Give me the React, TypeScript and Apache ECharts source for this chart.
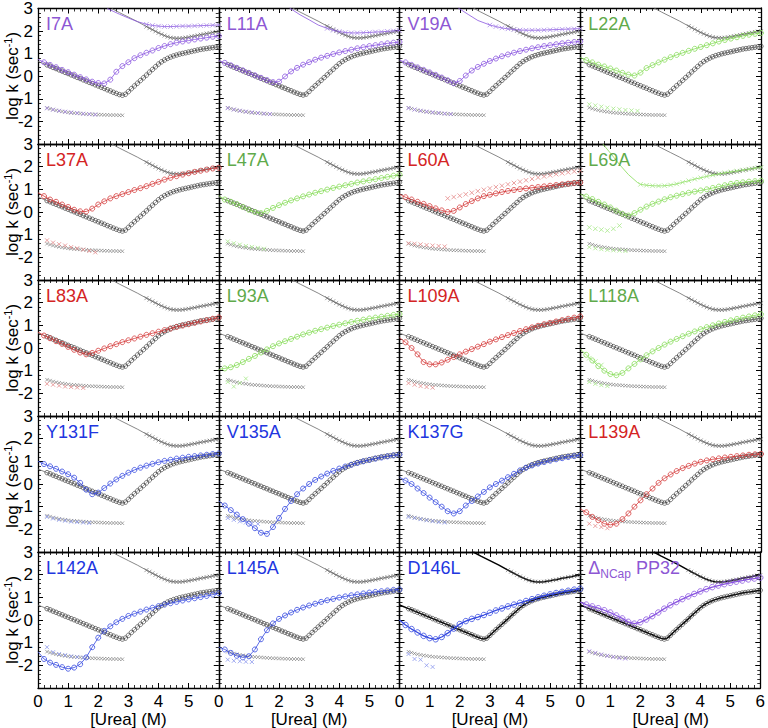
import React, { useEffect, useRef } from "react";
import * as echarts from "echarts";

const FONT = '"Liberation Sans", Arial, Helvetica, sans-serif';

// ---------- shared x grids ----------
const X02 = [0.2,0.4,0.6,0.8,1.0,1.2,1.4,1.6,1.8,2.0,2.2,2.4,2.6,2.8,3.0,3.2,3.4,3.6,3.8,4.0,4.2,4.4,4.6,4.8,5.0,5.2,5.4,5.6,5.8,6.0];
const X_BOT = [0.3,0.5,0.7,0.9,1.1,1.3,1.5,1.7,1.9];
const X_TOP36 = [3.6,3.8,4.0,4.2,4.4,4.6,4.8,5.0,5.2,5.4,5.6,5.8,6.0];
const X_TOP30 = [3.0,3.2,3.4,3.6,3.8,4.0,4.2,4.4,4.6,4.8,5.0,5.2,5.4,5.6,5.8,6.0];
const X_TOP16 = [1.6,1.8,2.0,2.2,2.4,2.6,2.8,3.0,3.2,3.4,3.6,3.8,4.0,4.2,4.4,4.6,4.8,5.0,5.2,5.4,5.6,5.8,6.0];
const X_TOP20 = [2.0,2.2,2.4,2.6,2.8,3.0,3.2,3.4,3.6,3.8,4.0,4.2,4.4,4.6,4.8,5.0,5.2,5.4,5.6,5.8,6.0];

// ---------- wild-type reference (shown in every panel) ----------
const WT_X = [0.3,0.4,0.5,0.6,0.7,0.8,0.9,1.0,1.1,1.2,1.3,1.4,1.5,1.6,1.7,1.8,1.9,2.0,2.1,2.2,2.3,2.4,2.5,2.6,2.7,2.8,2.9,3.0,3.1,3.2,3.3,3.4,3.5,3.6,3.7,3.8,3.9,4.0,4.1,4.2,4.3,4.4,4.5,4.6,4.7,4.8,4.9,5.0,5.1,5.2,5.3,5.4,5.5,5.6,5.7,5.8,5.9,6.0];
const WT_Y = [0.50,0.45,0.39,0.34,0.28,0.23,0.17,0.12,0.06,0.01,-0.05,-0.10,-0.16,-0.21,-0.27,-0.32,-0.38,-0.43,-0.49,-0.54,-0.60,-0.65,-0.71,-0.76,-0.81,-0.84,-0.80,-0.68,-0.55,-0.43,-0.31,-0.19,-0.07,0.05,0.18,0.30,0.42,0.54,0.64,0.72,0.79,0.85,0.90,0.94,0.98,1.01,1.04,1.07,1.10,1.13,1.16,1.19,1.21,1.23,1.25,1.27,1.29,1.31];
const WT_START = 0.66;
const WT_BOT_X = [0.3,0.4,0.5,0.6,0.7,0.8,0.9,1.0,1.1,1.2,1.3,1.4,1.5,1.6,1.7,1.8,1.9,2.0,2.1,2.2,2.3,2.4,2.5,2.6,2.7,2.8];
const WT_BOT_Y = [-1.40,-1.44,-1.48,-1.51,-1.54,-1.56,-1.58,-1.60,-1.62,-1.63,-1.64,-1.65,-1.66,-1.67,-1.68,-1.69,-1.69,-1.70,-1.70,-1.71,-1.71,-1.72,-1.72,-1.72,-1.73,-1.73];
const WT_TOP_X = [3.6,3.7,3.8,3.9,4.0,4.1,4.2,4.3,4.4,4.5,4.6,4.7,4.8,4.9,5.0,5.1,5.2,5.3,5.4,5.5,5.6,5.7,5.8,5.9,6.0];
const WT_TOP_Y = [2.20,2.13,2.06,1.99,1.92,1.86,1.80,1.75,1.71,1.69,1.68,1.68,1.69,1.71,1.73,1.76,1.78,1.81,1.84,1.86,1.89,1.91,1.94,1.96,1.98];
const WT_TOPFIT_X = [2.45,2.7,3.0,3.3];
const WT_TOPFIT_Y = [3.0,2.82,2.62,2.42];

// ---------- mutants ----------
const I7A_C = [0.62,0.50,0.40,0.28,0.18,0.07,-0.04,-0.14,-0.24,-0.30,-0.32,-0.15,0.20,0.45,0.62,0.80,0.93,1.04,1.14,1.25,1.34,1.42,1.49,1.54,1.58,1.63,1.67,1.71,1.75,1.78];
const I7A_B = [-1.42,-1.48,-1.53,-1.57,-1.60,-1.63,-1.66,-1.68,-1.70];
const I7A_T = [2.30,2.25,2.22,2.20,2.20,2.21,2.22,2.22,2.23,2.24,2.25,2.26,2.27];
const I7A_TFX = [2.3,2.7,3.0,3.3];
const I7A_TFY = [3.0,2.75,2.58,2.42];

const L11A_C = [0.58,0.47,0.36,0.25,0.14,0.03,-0.08,-0.18,-0.27,-0.25,-0.02,0.20,0.36,0.50,0.61,0.72,0.81,0.89,0.97,1.04,1.10,1.16,1.22,1.27,1.32,1.36,1.40,1.44,1.47,1.50];
const L11A_B = [-1.42,-1.48,-1.53,-1.57,-1.60,-1.63,-1.66,-1.68];
const L11A_T = [2.10,2.02,1.96,1.92,1.90,1.90,1.91,1.92,1.94,1.95,1.97,1.99,2.01];
const L11A_TFX = [2.35,2.7,3.0,3.3];
const L11A_TFY = [3.0,2.7,2.48,2.25];

const V19A_C = [0.60,0.49,0.38,0.27,0.16,0.05,-0.07,-0.19,-0.32,-0.22,0.02,0.24,0.40,0.54,0.66,0.77,0.87,0.95,1.03,1.10,1.16,1.22,1.27,1.32,1.36,1.40,1.44,1.47,1.50,1.53];
const V19A_B = [-1.42,-1.48,-1.53,-1.57,-1.60,-1.63,-1.66,-1.68];
const V19A_T = [2.25,2.18,2.12,2.08,2.05,2.03,2.02,2.02,2.02,2.03,2.04,2.05,2.06,2.07,2.08,2.09];
const V19A_TFX = [1.95,2.3,2.6];
const V19A_TFY = [3.0,2.7,2.45];

const L22A_C = [0.70,0.60,0.50,0.42,0.33,0.24,0.14,0.06,0.02,0.15,0.35,0.48,0.60,0.72,0.83,0.93,1.02,1.11,1.20,1.28,1.36,1.44,1.52,1.59,1.65,1.71,1.77,1.82,1.86,1.90];
const L22A_B = [-1.25,-1.30,-1.35,-1.40,-1.44,-1.47,-1.50,-1.52,-1.54];

const L37A_C = [0.70,0.55,0.45,0.33,0.22,0.10,0.03,0.02,0.15,0.33,0.47,0.60,0.70,0.79,0.88,0.97,1.05,1.14,1.24,1.33,1.43,1.51,1.58,1.65,1.71,1.77,1.82,1.87,1.92,1.95];
const L37A_B = [-1.25,-1.35,-1.42,-1.48,-1.55,-1.60,-1.66,-1.72,-1.78];

const L47A_C = [0.55,0.45,0.35,0.22,0.10,0.00,-0.05,0.05,0.18,0.30,0.41,0.51,0.60,0.69,0.77,0.85,0.92,0.99,1.06,1.12,1.18,1.24,1.30,1.35,1.40,1.45,1.50,1.55,1.60,1.65];
const L47A_B = [-1.30,-1.38,-1.44,-1.50,-1.54,-1.58,-1.62];

const L60A_C = [0.65,0.55,0.45,0.36,0.26,0.16,0.07,0.00,0.05,0.20,0.35,0.48,0.60,0.70,0.76,0.82,0.88,0.93,0.97,1.01,1.04,1.07,1.10,1.13,1.16,1.19,1.22,1.25,1.28,1.30];
const L60A_B = [-1.38,-1.40,-1.43,-1.46,-1.48,-1.50,-1.52];
const L60A_X = [0.60,0.66,0.72,0.78,0.85,0.92,0.98,1.04,1.10,1.16,1.22,1.28,1.34,1.40,1.46,1.52,1.57,1.62,1.67,1.71,1.75,1.79,1.82];

const L69A_C = [0.68,0.57,0.45,0.33,0.20,0.06,-0.08,-0.16,-0.05,0.10,0.24,0.36,0.46,0.56,0.65,0.72,0.79,0.85,0.90,0.95,1.00,1.06,1.12,1.18,1.24,1.28,1.31,1.34,1.36,1.38];
const L69A_B = [-1.55,-1.60,-1.64,-1.67,-1.69,-1.70,-1.72];
const L69A_T = [1.22,1.18,1.16,1.15,1.16,1.19,1.24,1.31,1.38,1.45,1.51,1.57,1.63,1.68,1.73,1.77,1.81,1.85,1.89,1.93,1.97];
const L69A_TFX = [0.75,1.0,1.3,1.6,1.9];
const L69A_TFY = [3.0,2.6,2.1,1.65,1.3];
const L69A_MID = [-0.68,-0.74,-0.78,-0.82,-0.74,-0.60];

const L83A_C = [0.55,0.43,0.30,0.18,0.05,-0.08,-0.20,-0.28,-0.22,-0.12,-0.02,0.08,0.17,0.26,0.34,0.42,0.50,0.58,0.65,0.72,0.79,0.86,0.93,0.99,1.05,1.11,1.17,1.23,1.29,1.35];
const L83A_B = [-1.58,-1.62,-1.66,-1.70,-1.72,-1.74,-1.76];

const L93A_C = [-0.90,-0.85,-0.75,-0.62,-0.48,-0.35,-0.20,-0.06,0.08,0.20,0.30,0.40,0.50,0.60,0.68,0.76,0.83,0.90,0.97,1.03,1.09,1.15,1.20,1.25,1.30,1.34,1.38,1.42,1.46,1.50];
const L93A_B = [-1.50,-1.70,-1.55,-1.35];

const L109A_C = [0.25,0.00,-0.28,-0.62,-0.72,-0.72,-0.64,-0.52,-0.40,-0.28,-0.16,-0.05,0.06,0.17,0.28,0.38,0.48,0.57,0.66,0.75,0.83,0.91,0.98,1.05,1.11,1.17,1.23,1.29,1.34,1.39];
const L109A_B = [-1.55,-1.62,-1.68,-1.72,-1.75];

const L118A_C = [-0.30,-0.55,-0.80,-1.00,-1.15,-1.20,-1.10,-0.90,-0.70,-0.50,-0.32,-0.15,0.00,0.15,0.28,0.40,0.52,0.63,0.73,0.83,0.92,1.00,1.08,1.15,1.22,1.28,1.34,1.39,1.44,1.49];
const L118A_B = [-1.50,-1.58,-1.64,-1.68];
const L118A_MID = [-0.45,-0.60,-0.75];

const Y131F_C = [0.88,0.78,0.67,0.55,0.43,0.28,0.05,-0.25,-0.45,-0.38,-0.18,0.02,0.20,0.36,0.50,0.62,0.72,0.81,0.89,0.96,1.02,1.07,1.12,1.16,1.20,1.23,1.26,1.29,1.32,1.35];
const Y131F_B = [-1.45,-1.52,-1.58,-1.62,-1.66,-1.68,-1.70,-1.72];

const V135A_C = [-0.95,-1.15,-1.35,-1.55,-1.75,-1.95,-2.15,-2.20,-1.90,-1.50,-1.10,-0.75,-0.45,-0.20,0.00,0.18,0.33,0.46,0.58,0.68,0.77,0.85,0.93,1.00,1.06,1.12,1.17,1.22,1.26,1.30];
const V135A_B = [-1.50,-1.58,-1.65,-1.70,-1.74,-1.76];

const K137G_C = [0.15,0.00,-0.20,-0.40,-0.60,-0.80,-1.00,-1.20,-1.30,-1.20,-0.95,-0.75,-0.55,-0.35,-0.15,0.00,0.15,0.30,0.45,0.60,0.72,0.82,0.90,0.97,1.03,1.09,1.14,1.19,1.23,1.27];
const K137G_B = [-1.45,-1.50,-1.55,-1.60,-1.64,-1.68,-1.70];

const L139A_C = [-1.25,-1.45,-1.60,-1.75,-1.80,-1.75,-1.55,-1.30,-1.00,-0.72,-0.45,-0.20,0.05,0.25,0.42,0.57,0.70,0.80,0.90,0.98,1.04,1.09,1.13,1.17,1.20,1.23,1.26,1.29,1.31,1.33];
const L139A_B = [-1.75,-1.85,-1.90,-1.95];

const L142A_C = [-1.72,-1.88,-1.98,-2.08,-2.15,-2.10,-1.95,-1.65,-1.20,-0.78,-0.48,-0.28,-0.10,0.05,0.18,0.28,0.37,0.46,0.54,0.61,0.68,0.74,0.80,0.86,0.91,0.96,1.01,1.06,1.12,1.18];
const L142A_B = [-1.20,-1.42,-1.50,-1.55,-1.60,-1.63,-1.66];

const L145A_C = [-1.30,-1.45,-1.58,-1.65,-1.60,-1.30,-0.85,-0.45,-0.15,0.05,0.20,0.33,0.45,0.55,0.64,0.72,0.80,0.87,0.93,0.99,1.04,1.09,1.13,1.17,1.21,1.24,1.27,1.30,1.33,1.35];
const L145A_B = [-1.75,-1.80,-1.82,-1.84,-1.85];

const D146L_C = [-0.22,-0.40,-0.55,-0.70,-0.80,-0.85,-0.75,-0.58,-0.38,-0.18,-0.05,0.05,0.13,0.22,0.32,0.42,0.51,0.60,0.68,0.76,0.84,0.92,1.00,1.07,1.13,1.19,1.24,1.29,1.34,1.38];
const D146L_B = [-1.50,-1.72,-1.75,-2.00,-2.07];

const PP32_C = [0.68,0.60,0.52,0.43,0.33,0.20,0.07,-0.08,-0.16,-0.10,0.02,0.17,0.33,0.50,0.65,0.79,0.92,1.04,1.15,1.26,1.36,1.45,1.52,1.58,1.64,1.69,1.74,1.79,1.83,1.87];
const PP32_B = [-1.38,-1.45,-1.52,-1.58,-1.63,-1.68,-1.70];

// ---------- colours ----------
const COLORS: Record<string, { mark: string; light: string; label: string }> = {
  purple: { mark: "#8a55e0", light: "#a98ae8", label: "#8d57d4" },
  red: { mark: "#d43a3a", light: "#e58a8a", label: "#d42424" },
  green: { mark: "#86dc58", light: "#a8e88a", label: "#5faa4b" },
  blue: { mark: "#3448e0", light: "#8c98ee", label: "#2136df" },
};

type Panel = {
  name: string;
  rich?: string;
  kind: string;
  circ: number[];
  start: number;
  bot: number[];
  botX?: number[];
  topX?: number[];
  top?: number[];
  tfx?: number[];
  tfy?: number[];
  midX?: number[];
  mid?: number[];
  bold?: boolean;
};

const PANELS: Panel[] = [
  { name: "I7A", kind: "purple", circ: I7A_C, start: 0.75, bot: I7A_B, topX: X_TOP36, top: I7A_T, tfx: I7A_TFX, tfy: I7A_TFY },
  { name: "L11A", kind: "purple", circ: L11A_C, start: 0.68, bot: L11A_B, topX: X_TOP36, top: L11A_T, tfx: L11A_TFX, tfy: L11A_TFY },
  { name: "V19A", kind: "purple", circ: V19A_C, start: 0.7, bot: V19A_B, topX: X_TOP30, top: V19A_T, tfx: V19A_TFX, tfy: V19A_TFY },
  { name: "L22A", kind: "green", circ: L22A_C, start: 0.82, bot: L22A_B },
  { name: "L37A", kind: "red", circ: L37A_C, start: 0.85, bot: L37A_B },
  { name: "L47A", kind: "green", circ: L47A_C, start: 0.72, bot: L47A_B },
  { name: "L60A", kind: "red", circ: L60A_C, start: 0.79, bot: L60A_B, topX: X_TOP16, top: L60A_X },
  { name: "L69A", kind: "green", circ: L69A_C, start: 0.79, bot: L69A_B, topX: X_TOP20, top: L69A_T, tfx: L69A_TFX, tfy: L69A_TFY, midX: X_BOT, mid: L69A_MID },
  { name: "L83A", kind: "red", circ: L83A_C, start: 0.7, bot: L83A_B },
  { name: "L93A", kind: "green", circ: L93A_C, start: -0.95, bot: L93A_B },
  { name: "L109A", kind: "red", circ: L109A_C, start: 0.45, bot: L109A_B },
  { name: "L118A", kind: "green", circ: L118A_C, start: -0.05, bot: L118A_B, midX: X_BOT, mid: L118A_MID },
  { name: "Y131F", kind: "blue", circ: Y131F_C, start: 1.0, bot: Y131F_B },
  { name: "V135A", kind: "blue", circ: V135A_C, start: -0.75, bot: V135A_B },
  { name: "K137G", kind: "blue", circ: K137G_C, start: 0.3, bot: K137G_B },
  { name: "L139A", kind: "red", circ: L139A_C, start: -1.1, bot: L139A_B },
  { name: "L142A", kind: "blue", circ: L142A_C, start: -1.4, bot: L142A_B },
  { name: "L145A", kind: "blue", circ: L145A_C, start: -1.2, bot: L145A_B },
  { name: "D146L", kind: "blue", circ: D146L_C, start: 0.0, bot: D146L_B, bold: true },
  { name: "PP32", rich: "{a|Δ}{s|NCap}{a| PP32}", kind: "purple", circ: PP32_C, start: 0.79, bot: PP32_B, bold: true },
];

const X_TITLE = "[Urea] (M)";
const Y_TITLE = "{a|log k (sec}{b|-1}{a|)}";

const COL_LEFT = 38;
const COL_W = 180.75;
const ROW_TOP = 8;
const ROW_H = 136;
const CROSS = "path://M0,0L10,10M10,0L0,10";

const pts = (xs: number[], ys: number[]) => ys.map((y, k) => [xs[k], y]);

function buildOption() {
  const grid: any[] = [];
  const xAxis: any[] = [];
  const yAxis: any[] = [];
  const series: any[] = [];
  const graphic: any[] = [];

  const frame = { show: true, onZero: false, lineStyle: { color: "#000", width: 1.3 } };
  const tick = { show: true, inside: true, length: 5, lineStyle: { color: "#000", width: 1 } };
  const minor = { show: true, splitNumber: 5, length: 3, lineStyle: { color: "#000", width: 0.8 } };

  PANELS.forEach((p, i) => {
    const r = Math.floor(i / 4);
    const c = i % 4;
    const left = COL_LEFT + c * COL_W;
    const top = ROW_TOP + r * ROW_H;
    grid.push({ left, top, width: COL_W, height: ROW_H });

    xAxis.push({
      gridIndex: i, type: "value", min: 0, max: 6, interval: 1, position: "bottom",
      axisLine: frame, axisTick: tick, minorTick: minor,
      splitLine: { show: false }, minorSplitLine: { show: false },
      axisLabel: {
        show: r === 4, fontSize: 17, color: "#000", fontFamily: FONT, margin: 5,
        formatter: (v: number) => (v === 6 && c < 3 ? "" : String(v)),
      },
    });
    xAxis.push({
      gridIndex: i, type: "value", min: 0, max: 6, interval: 1, position: "top",
      axisLine: frame, axisTick: tick, minorTick: minor,
      splitLine: { show: false }, minorSplitLine: { show: false },
      axisLabel: { show: false },
    });
    yAxis.push({
      gridIndex: i, type: "value", min: -3, max: 3, interval: 1, position: "left",
      axisLine: frame, axisTick: tick, minorTick: minor,
      splitLine: { show: false }, minorSplitLine: { show: false },
      axisLabel: {
        show: c === 0, fontSize: 17, color: "#000", fontFamily: FONT, margin: 5,
        formatter: (v: number) => (v === -3 ? "" : String(v)),
      },
    });
    yAxis.push({
      gridIndex: i, type: "value", min: -3, max: 3, interval: 1, position: "right",
      axisLine: frame, axisTick: tick, minorTick: minor,
      splitLine: { show: false }, minorSplitLine: { show: false },
      axisLabel: { show: false },
    });

    const ax = { xAxisIndex: 2 * i, yAxisIndex: 2 * i, silent: true };
    const wtLine = p.bold ? { color: "#000", width: 1.5 } : { color: "#6a6a6a", width: 0.8 };
    const col = COLORS[p.kind];

    // WT
    series.push({ ...ax, type: "line", symbol: "none", data: [[0, WT_START], ...pts(WT_X, WT_Y)], lineStyle: wtLine, z: 2 });
    series.push({ ...ax, type: "line", symbol: "none", data: [...pts(WT_TOPFIT_X, WT_TOPFIT_Y), ...pts(WT_TOP_X, WT_TOP_Y)], lineStyle: wtLine, z: 2 });
    series.push({ ...ax, type: "scatter", symbol: "circle", symbolSize: 4.5, data: pts(WT_X, WT_Y), itemStyle: { color: "rgba(0,0,0,0)", borderColor: "#333", borderWidth: 0.8 }, z: 3 });
    series.push({ ...ax, type: "scatter", symbol: CROSS, symbolSize: 4, data: pts(WT_TOP_X, WT_TOP_Y), itemStyle: { color: "rgba(0,0,0,0)", borderColor: "#555", borderWidth: 0.7 }, z: 3 });
    series.push({ ...ax, type: "scatter", symbol: CROSS, symbolSize: 3.5, data: pts(WT_BOT_X, WT_BOT_Y), itemStyle: { color: "rgba(0,0,0,0)", borderColor: "#666", borderWidth: 0.7 }, z: 3 });

    // mutant
    series.push({ ...ax, type: "line", symbol: "none", data: [[0, p.start], ...pts(X02, p.circ)], lineStyle: { color: col.mark, width: p.bold ? 1.3 : 0.8 }, z: 4 });
    series.push({ ...ax, type: "scatter", symbol: "circle", symbolSize: p.bold ? 5.5 : 5, data: pts(X02, p.circ), itemStyle: { color: "rgba(0,0,0,0)", borderColor: col.mark, borderWidth: 1 }, z: 5 });
    series.push({ ...ax, type: "scatter", symbol: CROSS, symbolSize: 4, data: pts(p.botX || X_BOT, p.bot), itemStyle: { color: "rgba(0,0,0,0)", borderColor: col.light, borderWidth: 1 }, z: 5 });
    if (p.top && p.topX) {
      series.push({ ...ax, type: "scatter", symbol: CROSS, symbolSize: 4.5, data: pts(p.topX, p.top), itemStyle: { color: "rgba(0,0,0,0)", borderColor: col.light, borderWidth: 1 }, z: 5 });
      if (p.tfx && p.tfy) {
        series.push({ ...ax, type: "line", symbol: "none", data: [...pts(p.tfx, p.tfy), ...pts(p.topX, p.top)], lineStyle: { color: col.mark, width: 0.8 }, z: 4 });
      }
    }
    if (p.mid && p.midX) {
      series.push({ ...ax, type: "scatter", symbol: CROSS, symbolSize: 4.5, data: pts(p.midX, p.mid), itemStyle: { color: "rgba(0,0,0,0)", borderColor: col.light, borderWidth: 1 }, z: 5 });
    }

    // panel label
    graphic.push({
      type: "text", left: left + 8, top: top + 7, silent: true, z: 100,
      style: p.rich
        ? {
            text: p.rich,
            rich: {
              a: { fontSize: 18, fontFamily: FONT, fill: col.label, lineHeight: 20 },
              s: { fontSize: 12, fontFamily: FONT, fill: col.label, verticalAlign: "bottom", lineHeight: 24 },
            },
          }
        : { text: p.name, fontSize: 18, fontFamily: FONT, fill: col.label },
    });
  });

  // y titles per row
  for (let r = 0; r < 5; r++) {
    graphic.push({
      type: "text", x: 12, y: ROW_TOP + r * ROW_H + ROW_H / 2, rotation: Math.PI / 2, silent: true,
      style: {
        text: Y_TITLE,
        align: "center", verticalAlign: "middle", textAlign: "center", textVerticalAlign: "middle",
        rich: {
          a: { fontSize: 17, fontFamily: FONT, fill: "#000", lineHeight: 20 },
          b: { fontSize: 11, fontFamily: FONT, fill: "#000", verticalAlign: "top", lineHeight: 20 },
        },
      },
    });
  }
  // x titles per column
  for (let c = 0; c < 4; c++) {
    graphic.push({
      type: "text", x: COL_LEFT + c * COL_W + COL_W / 2, y: 719, silent: true,
      style: {
        text: X_TITLE, fontSize: 17, fontFamily: FONT, fill: "#000",
        align: "center", verticalAlign: "middle", textAlign: "center", textVerticalAlign: "middle",
      },
    });
  }

  return { animation: false, backgroundColor: "#fff", grid, xAxis, yAxis, series, graphic };
}

export default function App() {
  const ref = useRef<HTMLDivElement>(null);
  useEffect(() => {
    if (!ref.current) return;
    const chart = echarts.init(ref.current, null, { renderer: "svg", width: 768, height: 728 });
    chart.setOption(buildOption() as any);
    return () => chart.dispose();
  }, []);
  return (
    <div
      ref={ref}
      style={{ position: "fixed", left: 0, top: 0, width: 768, height: 728, background: "#fff" }}
    />
  );
}
